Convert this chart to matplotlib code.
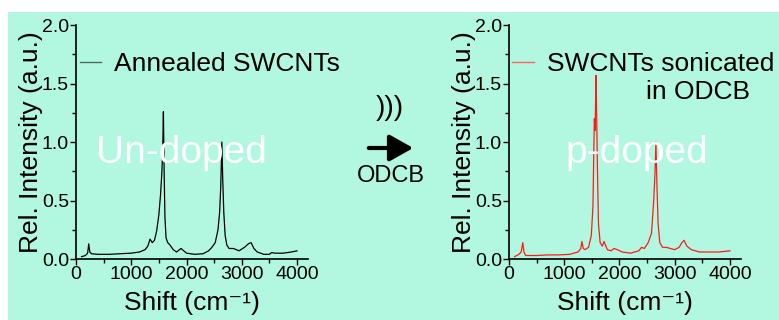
import numpy as np
import matplotlib
matplotlib.use("Agg")
import matplotlib.pyplot as plt
from matplotlib.patches import Rectangle, FancyArrowPatch
from matplotlib.ticker import MultipleLocator

plt.rcParams['font.family'] = ['Liberation Sans', 'DejaVu Sans']

# Raman spectra (shift in cm-1, relative intensity)
shift_undoped = [100, 170, 210, 230, 250, 280, 400, 600, 800, 1000, 1150, 1250, 1300,
                 1340, 1380, 1420, 1460, 1500, 1530, 1555, 1570, 1582, 1595, 1610, 1630,
                 1660, 1700, 1760, 1820, 1900, 1950, 2000, 2150, 2300, 2400, 2460, 2520,
                 2570, 2600, 2620, 2640, 2655, 2675, 2700, 2730, 2770, 2850, 2900, 2950,
                 3050, 3120, 3170, 3220, 3280, 3400, 3500, 3540, 3600, 3750, 3900, 4000]
int_undoped = [0.02, 0.03, 0.05, 0.13, 0.06, 0.045, 0.04, 0.04, 0.045, 0.05, 0.06, 0.08, 0.11,
               0.17, 0.14, 0.16, 0.24, 0.38, 0.55, 0.75, 0.95, 1.26, 0.75, 0.35, 0.18,
               0.14, 0.12, 0.08, 0.06, 0.09, 0.07, 0.05, 0.04, 0.045, 0.07, 0.1, 0.14,
               0.25, 0.4, 0.62, 1.0, 0.7, 0.4, 0.2, 0.12, 0.09, 0.09, 0.08, 0.07,
               0.1, 0.13, 0.14, 0.09, 0.06, 0.04, 0.04, 0.055, 0.05, 0.05, 0.06, 0.07]

shift_doped = [100, 180, 220, 250, 270, 300, 500, 700, 900, 1100, 1250, 1300, 1320,
               1345, 1380, 1440, 1490, 1520, 1545, 1560, 1575, 1585, 1600, 1620, 1650,
               1690, 1720, 1780, 1850, 1900, 1960, 2050, 2200, 2350, 2400, 2450, 2520,
               2580, 2620, 2645, 2660, 2680, 2700, 2730, 2780, 2850, 2920, 3000, 3080,
               3130, 3170, 3220, 3300, 3450, 3600, 3800, 4000]
int_doped = [0.02, 0.04, 0.06, 0.14, 0.06, 0.03, 0.03, 0.035, 0.035, 0.04, 0.06, 0.09, 0.15,
             0.09, 0.08, 0.1, 0.2, 0.45, 1.2, 1.1, 1.57, 1.3, 0.8, 0.3, 0.14,
             0.11, 0.15, 0.08, 0.07, 0.09, 0.08, 0.06, 0.05, 0.07, 0.1, 0.09, 0.14,
             0.22, 0.5, 0.75, 1.0, 0.6, 0.3, 0.14, 0.1, 0.1, 0.09, 0.08, 0.1,
             0.14, 0.16, 0.11, 0.08, 0.06, 0.06, 0.06, 0.07]

mint = '#b2f8e1'

fig = plt.figure(figsize=(7.79, 3.20), dpi=100)
fig.add_artist(Rectangle((8 / 779, 0), 1, 1 - 12 / 320, transform=fig.transFigure,
                         facecolor=mint, edgecolor='none', zorder=0))


def setup_axes(ax):
    ax.set_facecolor('none')
    ax.set_xlim(0, 4200)
    ax.set_ylim(0, 2.0)
    for s in ['top', 'right']:
        ax.spines[s].set_visible(False)
    ax.spines['left'].set_linewidth(1.2)
    ax.spines['bottom'].set_linewidth(1.2)
    ax.xaxis.set_major_locator(MultipleLocator(1000))
    ax.xaxis.set_minor_locator(MultipleLocator(500))
    ax.yaxis.set_major_locator(MultipleLocator(0.5))
    ax.yaxis.set_minor_locator(MultipleLocator(0.25))
    ax.tick_params(which='major', length=4, width=1, labelsize=14, pad=1)
    ax.tick_params(which='minor', length=3, width=1)
    ax.set_yticks([0, 0.5, 1.0, 1.5, 2.0], ['0.0', '0.5', '1.0', '1.5', '2.0'])
    ax.set_xlabel('Shift (cm\u207b\u00b9)', fontsize=19, labelpad=6)
    ax.set_ylabel('Rel. Intensity (a.u.)', fontsize=19, labelpad=-1)


def add_legend(ax, handle_color, label):
    ax.plot([], [], color=handle_color, lw=1, label=label)
    return ax.legend(loc='upper left', bbox_to_anchor=(0.015, 0.885), frameon=False,
                     fontsize=19, handlelength=0.8, handletextpad=0.5,
                     borderpad=0, borderaxespad=0)


ax1 = fig.add_axes([0.0976, 0.1906, 0.2978, 0.731])
setup_axes(ax1)
ax1.plot(shift_undoped, int_undoped, color='black', lw=0.9)
ax1.text(0.455, 0.41, 'Un-doped', transform=ax1.transAxes, color='white',
         fontsize=28, ha='center', va='baseline', zorder=5)
add_legend(ax1, '#4a6a60', 'Annealed SWCNTs')

ax2 = fig.add_axes([0.6534, 0.1906, 0.2978, 0.731])
setup_axes(ax2)
ax2.plot(shift_doped, int_doped, color='#ff1a1a', lw=0.9)
ax2.text(0.552, 0.41, 'p-doped', transform=ax2.transAxes, color='white',
         fontsize=28, ha='center', va='baseline', zorder=5)
add_legend(ax2, '#ff6060', 'SWCNTs sonicated')
ax2.text(1.04, 0.685, 'in ODCB', transform=ax2.transAxes, fontsize=19,
         ha='right', va='baseline')

# middle annotation
fig.text(390 / 779, 1 - 108 / 320, ')))', fontsize=20, ha='center', va='center')
fig.add_artist(FancyArrowPatch(
    (366 / 779, 1 - 148 / 320), (416 / 779, 1 - 148 / 320), transform=fig.transFigure,
    arrowstyle='-|>,head_length=0.8,head_width=0.45', mutation_scale=18,
    lw=3, color='black'))
fig.text(391 / 779, 1 - 176 / 320, 'ODCB', fontsize=17, ha='center', va='center')

fig.savefig('out.png', dpi=100)
